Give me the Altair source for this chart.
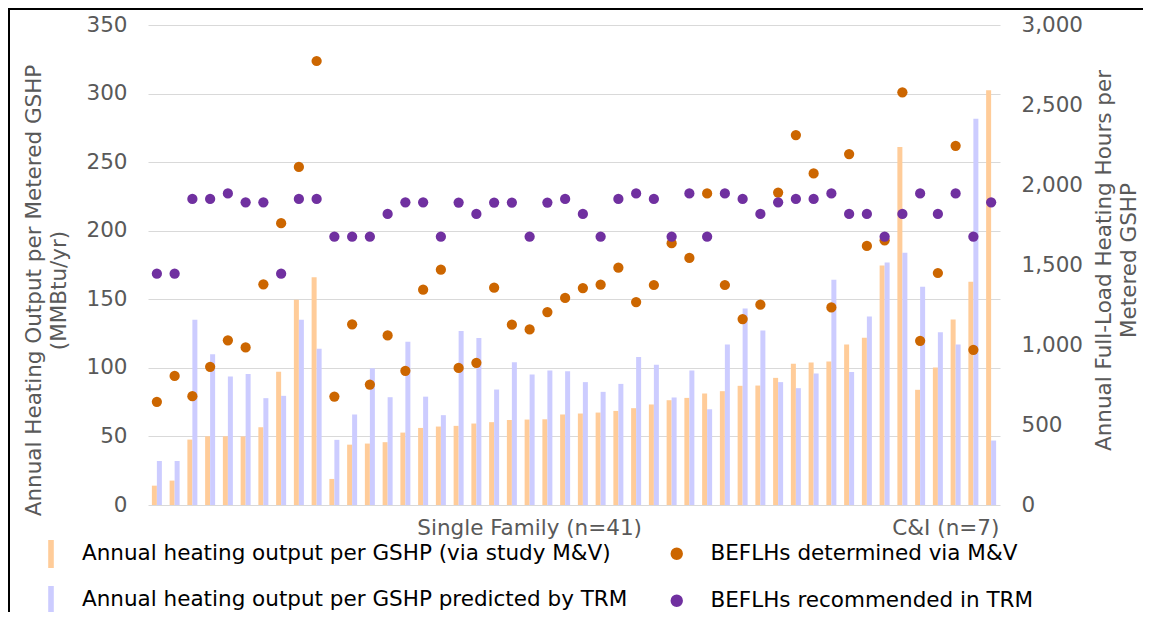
import altair as alt
import pandas as pd

FONT = "DejaVu Sans"

sites = list(range(1, 49))

group_labels = ["Single Family (n=41)", "C&I (n=7)"]
group_anchor_sites = [22, 45]

bar_names = [
    "Annual heating output per GSHP (via study M&V)",
    "Annual heating output per GSHP predicted by TRM",
]
dot_names = [
    "BEFLHs determined via M&V",
    "BEFLHs recommended in TRM",
]

# Annual heating output per GSHP (MMBtu/yr), via study M&V
output_mv = [14.1, 17.8, 47.7, 50.1, 50.1, 50.0, 56.7, 97.1, 149.7, 166.0,
             19.0, 44.0, 44.8, 45.8, 52.8, 56.2, 57.2, 57.7, 59.4, 60.4,
             62.0, 62.3, 62.5, 66.0, 66.7, 67.4, 68.6, 70.6, 73.3, 76.4,
             78.1, 81.3, 83.0, 86.9, 87.1, 92.7, 103.0, 103.9, 104.6, 117.0,
             121.9, 174.7, 261.0, 84.0, 100.3, 135.3, 162.8, 302.5]
# Annual heating output per GSHP predicted by TRM (MMBtu/yr)
output_trm = [32.1, 32.1, 135.0, 110.0, 93.7, 95.6, 77.9, 79.6, 135.0, 114.0,
              47.5, 66.0, 99.8, 78.6, 119.0, 79.0, 65.5, 126.8, 121.7, 84.2,
              104.0, 95.2, 98.0, 97.6, 89.6, 82.5, 88.3, 108.0, 102.2, 78.4,
              98.0, 69.8, 117.0, 143.3, 127.3, 89.6, 85.2, 95.9, 164.3, 96.9,
              137.5, 176.9, 184.0, 159.2, 126.0, 117.0, 281.6, 47.0]
# BEFLHs determined via M&V (hours)
beflh_mv = [645, 807, 680, 864, 1029, 985, 1379, 1761, 2113, 2775,
            678, 1129, 753, 1060, 839, 1346, 1471, 857, 889, 1358,
            1127, 1097, 1206, 1294, 1356, 1377, 1483, 1268, 1375, 1636,
            1544, 1947, 1375, 1162, 1252, 1953, 2312, 2072, 1235, 2193,
            1619, 1654, 2579, 1026, 1450, 2245, 970, None]
# BEFLHs recommended in TRM (hours)
beflh_trm = [1446, 1446, 1913, 1913, 1947, 1892, 1892, 1446, 1913, 1913,
             1677, 1677, 1677, 1819, 1892, 1892, 1677, 1890, 1819, 1890,
             1890, 1677, 1890, 1913, 1819, 1677, 1913, 1947, 1913, 1677,
             1947, 1677, 1947, 1913, 1819, 1892, 1913, 1913, 1947, 1819,
             1819, 1677, 1819, 1947, 1819, 1947, 1677, 1892]

left_ticks = [0, 50, 100, 150, 200, 250, 300, 350]
right_ticks = [0, 500, 1000, 1500, 2000, 2500, 3000]

bar_colors = ["#FFCC99", "#CCCCFF"]
dot_colors = ["#CC6600", "#7030A0"]

bars_df = pd.DataFrame({
    "site": sites + sites,
    "series": [bar_names[0]] * len(sites) + [bar_names[1]] * len(sites),
    "value": output_mv + output_trm,
})
dots_rows = []
for s, v in zip(sites, beflh_mv):
    if v is not None:
        dots_rows.append({"site": s, "series": dot_names[0], "value": v})
for s, v in zip(sites, beflh_trm):
    if v is not None:
        dots_rows.append({"site": s, "series": dot_names[1], "value": v})
dots_df = pd.DataFrame(dots_rows)

x_scale = alt.Scale(domain=sites, paddingInner=0.4366, paddingOuter=0.2183)
x_enc = alt.X("site:O", scale=x_scale, axis=None)

bars = alt.Chart(bars_df).mark_bar().encode(
    x=x_enc,
    xOffset=alt.XOffset("series:N", scale=alt.Scale(domain=bar_names, paddingInner=0, paddingOuter=0)),
    y=alt.Y(
        "value:Q",
        scale=alt.Scale(domain=[0, 350], nice=False, zero=True),
        axis=alt.Axis(
            values=left_ticks, domain=False, ticks=False, grid=True,
            gridColor="#D9D9D9", gridWidth=1.2,
            labelFont=FONT, labelFontSize=21.5, labelColor="#595959", labelPadding=21,
            title=["Annual Heating Output per Metered GSHP", "(MMBtu/yr)"],
            titleFont=FONT, titleFontSize=21.5, titleFontWeight="normal", titleColor="#595959",
            titleAngle=270, titleAlign="center", titleBaseline="top",
            titleX=-125, titleY=265, titleLineHeight=25,
        ),
    ),
    color=alt.Color(
        "series:N",
        scale=alt.Scale(domain=bar_names, range=bar_colors),
        legend=alt.Legend(
            title=None, orient="none", legendX=-111, legendY=515, direction="vertical",
            symbolType="M-0.2,-1L0.2,-1L0.2,1L-0.2,1Z", symbolSize=784, symbolStrokeWidth=0,
            symbolOpacity=1,
            labelFont=FONT, labelFontSize=21.5, labelColor="#000000", labelOffset=17,
            labelLimit=900, rowPadding=18,
        ),
    ),
)

dots = alt.Chart(dots_df).mark_circle(size=105, opacity=1).encode(
    x=x_enc,
    y=alt.Y(
        "value:Q",
        scale=alt.Scale(domain=[0, 3000], nice=False, zero=True),
        axis=alt.Axis(
            orient="right", values=right_ticks, format=",d", domain=False, ticks=False, grid=False,
            labelFont=FONT, labelFontSize=21.5, labelColor="#595959", labelPadding=21,
            title=["Annual Full-Load Heating Hours per", "Metered GSHP"],
            titleFont=FONT, titleFontSize=21.5, titleFontWeight="normal", titleColor="#595959",
            titleAngle=270, titleAlign="center", titleBaseline="top",
            titleX=93, titleY=235, titleLineHeight=25,
        ),
    ),
    color=alt.Color(
        "series:N",
        scale=alt.Scale(domain=dot_names, range=dot_colors),
        legend=alt.Legend(
            title=None, orient="none", legendX=518, legendY=518, direction="vertical",
            symbolType="circle", symbolSize=154, symbolStrokeWidth=0, symbolOpacity=1,
            labelFont=FONT, labelFontSize=21.5, labelColor="#000000", labelOffset=23,
            labelLimit=900, rowPadding=24,
        ),
    ),
)

group_layers = []
group_dx = [0, 8]
for lbl, site, dx in zip(group_labels, group_anchor_sites, group_dx):
    gdf = pd.DataFrame({"site": [site], "label": [lbl]})
    group_layers.append(
        alt.Chart(gdf).mark_text(
            font=FONT, fontSize=21.5, color="#595959", align="center", baseline="middle", dx=dx
        ).encode(x=x_enc, y=alt.value(504), text="label:N")
    )

border = alt.Chart(alt.Data(values=[{}])).mark_rect(
    fillOpacity=0, stroke="#000000", strokeWidth=2
).encode(
    x=alt.value(-139), x2=alt.value(1010), y=alt.value(-16), y2=alt.value(620)
)

chart = alt.layer(bars, dots, *group_layers, border).resolve_scale(
    y="independent", color="independent"
).resolve_legend(color="independent").properties(
    width=852, height=480,
    autosize=alt.AutoSizeParams(type="none"),
    padding={"left": 140, "top": 17, "right": 143, "bottom": 107},
    background="#FFFFFF",
).configure_view(stroke=None)

chart.save("out.html", embed_options={"renderer": "svg", "actions": False})
